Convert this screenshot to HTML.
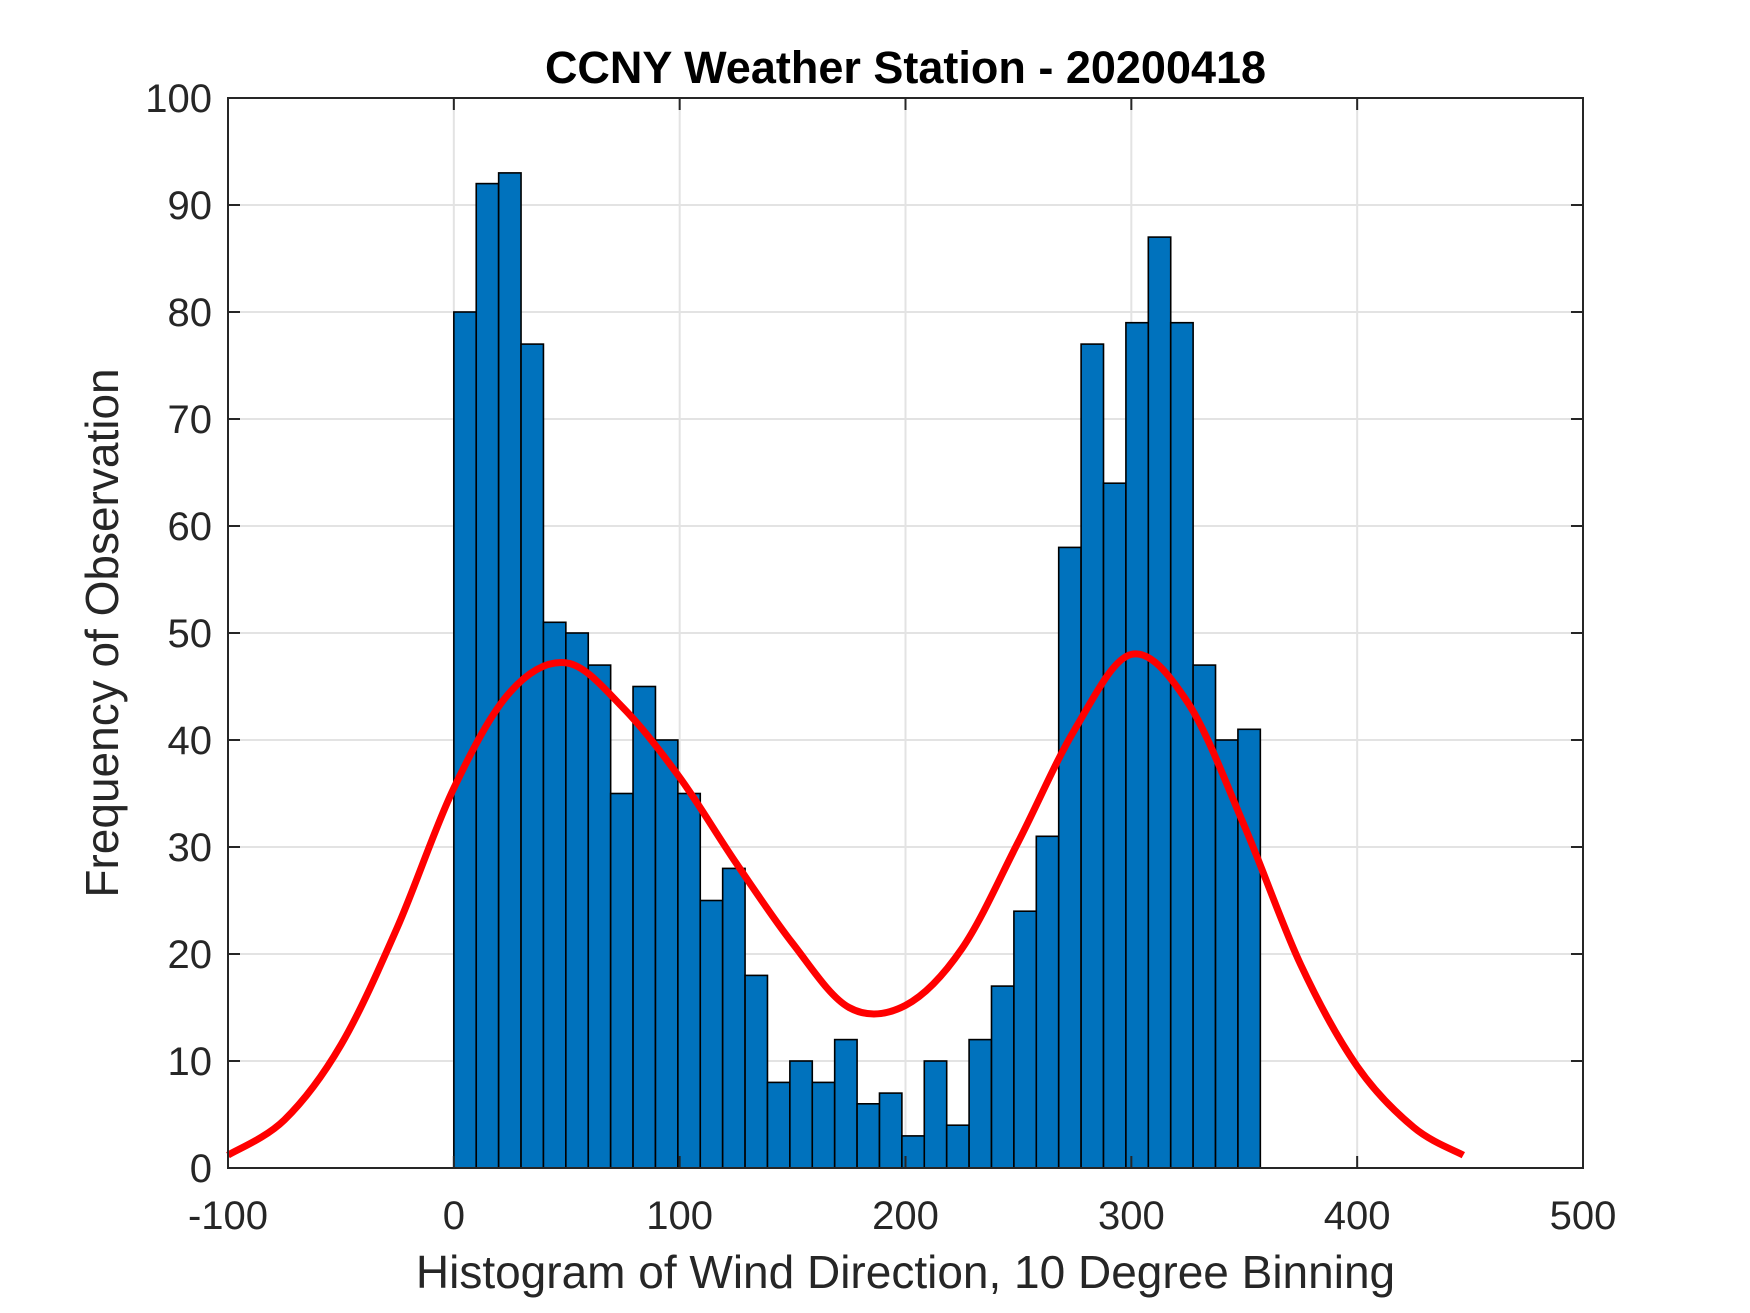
<!DOCTYPE html>
<html><head><meta charset="utf-8"><style>html,body{margin:0;padding:0;background:#fff}svg{display:block}</style></head>
<body>
<svg id="chart" width="1750" height="1313" viewBox="0 0 1750 1313" xmlns="http://www.w3.org/2000/svg" font-family="Liberation Sans, Arial, sans-serif">
<rect width="1750" height="1313" fill="#fff"/>
<g id="grid"></g><g id="bars"></g><g id="curve"></g><g id="axes"></g>
</svg>
<script>
const binStart = 0;
const binWidth = 9.92;
const counts = [80,92,93,77,51,50,47,35,45,40,35,25,28,18,8,10,8,12,6,7,3,10,4,12,17,24,31,58,77,64,79,87,79,47,40,41];
const curveX = [-100,-75,-50,-25,0,25,50,75,100,125,150,175,200,225,250,275,300,325,350,375,400,425,447];
const curveY = [1.2,4.5,11.5,22.5,35.5,44.5,47.2,43,36.5,28.5,21,15,15.2,20.5,30.5,41,48,43.5,32,19,9.5,3.8,1.2];
const xTicks = [-100,0,100,200,300,400,500];
const yTicks = [0,10,20,30,40,50,60,70,80,90,100];

const L=228,R=1583,T=98,B=1168;
const xs=v=>L+(v+100)/600*(R-L);
const ys=v=>B-v/100*(B-T);
const NS='http://www.w3.org/2000/svg';
function mk(tag,attrs,parent,text){const e=document.createElementNS(NS,tag);for(const k in attrs)e.setAttribute(k,attrs[k]);if(text!==undefined)e.textContent=text;parent.appendChild(e);return e;}
const grid=document.getElementById('grid'),bars=document.getElementById('bars'),curve=document.getElementById('curve'),axes=document.getElementById('axes');
xTicks.forEach(t=>{const g=mk('line',{x1:xs(t),x2:xs(t),y1:T,y2:B,stroke:'#e3e3e3','stroke-width':2},grid);

});
yTicks.forEach(t=>{const g=mk('line',{x1:L,x2:R,y1:ys(t),y2:ys(t),stroke:'#e3e3e3','stroke-width':2},grid);

});
counts.forEach((c,i)=>{const x0=xs(binStart+i*binWidth),x1=xs(binStart+(i+1)*binWidth);
const r=mk('rect',{x:x0,y:ys(c),width:x1-x0,height:ys(0)-ys(c),fill:'#0072bd',stroke:'#000','stroke-width':1.6},bars);

});
const P=curveX.map((x,i)=>[xs(x),ys(curveY[i])]);
let d='M'+P[0][0]+','+P[0][1];
for(let i=0;i<P.length-1;i++){const p0=P[Math.max(0,i-1)],p1=P[i],p2=P[i+1],p3=P[Math.min(P.length-1,i+2)];
d+=' C'+(p1[0]+(p2[0]-p0[0])/6)+','+(p1[1]+(p2[1]-p0[1])/6)+' '+(p2[0]-(p3[0]-p1[0])/6)+','+(p2[1]-(p3[1]-p1[1])/6)+' '+p2[0]+','+p2[1];}
const c=mk('path',{d:d,fill:'none',stroke:'#ff0000','stroke-width':7,'stroke-linejoin':'round'},curve);


const box=mk('rect',{x:L,y:T,width:R-L,height:B-T,fill:'none',stroke:'#262626','stroke-width':2},axes);


xTicks.forEach(t=>{mk('line',{x1:xs(t),x2:xs(t),y1:B,y2:B-12,stroke:'#262626','stroke-width':2},axes);mk('line',{x1:xs(t),x2:xs(t),y1:T,y2:T+12,stroke:'#262626','stroke-width':2},axes);
const l=mk('text',{x:xs(t),y:1229,'text-anchor':'middle','font-size':40,fill:'#262626'},axes,String(t));

});
yTicks.forEach(t=>{mk('line',{x1:L,x2:L+12,y1:ys(t),y2:ys(t),stroke:'#262626','stroke-width':2},axes);mk('line',{x1:R,x2:R-12,y1:ys(t),y2:ys(t),stroke:'#262626','stroke-width':2},axes);
const l=mk('text',{x:L-16,y:ys(t)+14,'text-anchor':'end','font-size':40,fill:'#262626'},axes,String(t));

});
const ti=mk('text',{x:(L+R)/2,y:83,'text-anchor':'middle','font-size':45,'font-weight':'bold',fill:'#000'},axes,'CCNY Weather Station - 20200418');


const xl=mk('text',{x:(L+R)/2,y:1288,'text-anchor':'middle','font-size':46,fill:'#262626'},axes,'Histogram of Wind Direction, 10 Degree Binning');


const yl=mk('text',{x:0,y:0,'text-anchor':'middle','font-size':46,fill:'#262626',transform:'translate(118,'+((T+B)/2)+') rotate(-90)'},axes,'Frequency of Observation');


</script>
</body></html>
